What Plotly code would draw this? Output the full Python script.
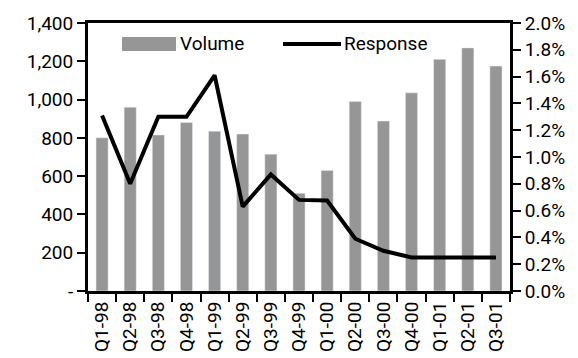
import plotly.graph_objects as go

categories = ["Q1-98", "Q2-98", "Q3-98", "Q4-98", "Q1-99", "Q2-99", "Q3-99", "Q4-99",
              "Q1-00", "Q2-00", "Q3-00", "Q4-00", "Q1-01", "Q2-01", "Q3-01"]
volume = [800, 960, 815, 880, 835, 820, 715, 510, 630, 990, 888, 1035, 1210, 1270, 1175]
response = [0.0131, 0.0080, 0.0130, 0.0130, 0.0161, 0.0063, 0.0087, 0.0068, 0.00675,
            0.0039, 0.0030, 0.0025, 0.0025, 0.0025, 0.0025]
left_ticks = [0, 200, 400, 600, 800, 1000, 1200, 1400]
left_labels = ["-", "200", "400", "600", "800", "1,000", "1,200", "1,400"]

FONT = "Roboto, Liberation Sans, sans-serif"
FS = 19
BAR = "#969696"

fig = go.Figure()
fig.add_trace(go.Bar(x=categories, y=volume, name="Volume", marker_color=BAR,
                     width=0.43, yaxis="y"))
fig.add_trace(go.Scatter(x=categories, y=response, name="Response", mode="lines",
                         line=dict(color="black", width=4), yaxis="y2"))

# page body has an 8px default margin, so the figure is sized to fit the window
fig.update_layout(
    width=570, height=350,
    margin=dict(l=80, r=68, t=15, b=67, autoexpand=False),
    paper_bgcolor="white", plot_bgcolor="white",
    font=dict(family=FONT, size=FS, color="black"),
    showlegend=False,
    xaxis=dict(type="category", categoryarray=categories, range=[-0.5, 14.5],
               tickson="boundaries", ticks="outside", ticklen=8, tickwidth=2,
               tickcolor="black", showline=True, linecolor="black", linewidth=3,
               mirror=True, tickangle=-90, showgrid=False, automargin=False,
               tickfont=dict(size=FS)),
    xaxis2=dict(overlaying="x", range=[-0.5, 14.5], tick0=0.5, dtick=1,
                ticks="inside", ticklen=7, tickwidth=2, tickcolor="black",
                showticklabels=False, showline=False, showgrid=False, zeroline=False),
    yaxis=dict(range=[0, 1400], tickvals=left_ticks, ticktext=left_labels,
               ticks="outside", ticklen=8, tickwidth=2, tickcolor="black",
               showline=True, linecolor="black", linewidth=3, showgrid=False,
               zeroline=False, automargin=False, tickfont=dict(size=FS)),
    yaxis3=dict(overlaying="y", range=[0, 1400], tickvals=left_ticks,
                ticks="inside", ticklen=7, tickwidth=2, tickcolor="black",
                showticklabels=False, showline=False, showgrid=False, zeroline=False),
    yaxis2=dict(overlaying="y", side="right", range=[0, 0.02], dtick=0.002,
                tickformat=".1%", ticks="outside", ticklen=8, tickwidth=2,
                tickcolor="black", showline=True, linecolor="black", linewidth=3,
                showgrid=False, zeroline=False, automargin=False,
                tickfont=dict(size=FS)),
    yaxis4=dict(overlaying="y", side="right", range=[0, 0.02], dtick=0.002,
                ticks="inside", ticklen=7, tickwidth=2, tickcolor="black",
                showticklabels=False, showline=False, showgrid=False, zeroline=False),
)

# legend drawn inside the plot area (plot area is 422 x 268 px)
PW, PH = 422, 268
fig.add_shape(type="rect", xref="paper", yref="paper",
              x0=34 / PW, x1=88 / PW, y0=(PH - 28) / PH, y1=(PH - 14) / PH,
              fillcolor=BAR, line=dict(width=0))
fig.add_annotation(xref="paper", yref="paper", x=90 / PW, y=(PH - 21) / PH,
                   text="Volume", showarrow=False, xanchor="left", yanchor="middle",
                   font=dict(size=FS))
fig.add_shape(type="line", xref="paper", yref="paper",
              x0=195 / PW, x1=253 / PW, y0=(PH - 21) / PH, y1=(PH - 21) / PH,
              line=dict(color="black", width=4))
fig.add_annotation(xref="paper", yref="paper", x=254 / PW, y=(PH - 21) / PH,
                   text="Response", showarrow=False, xanchor="left", yanchor="middle",
                   font=dict(size=FS))

fig.write_html("out.html")
